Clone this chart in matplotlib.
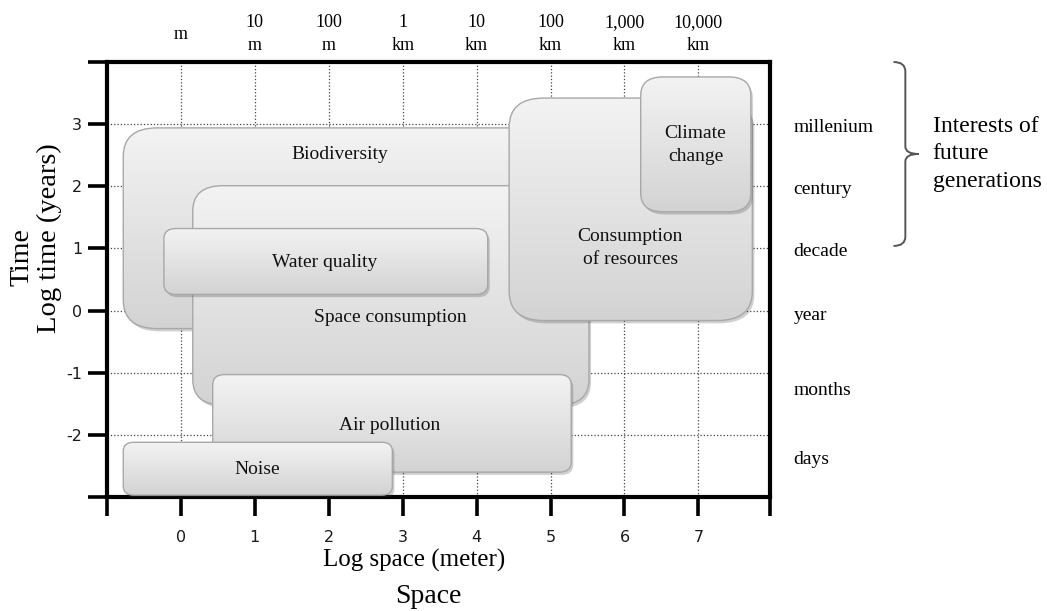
import numpy as np
import matplotlib
matplotlib.use('Agg')
from matplotlib import pyplot as plt
from matplotlib.patches import FancyBboxPatch, PathPatch
from matplotlib.path import Path
from matplotlib.colors import LinearSegmentedColormap
import matplotlib.patheffects as pe

# boxes, in drawing order (log10 meters / log10 years)
box_names = ['Biodiversity', 'Space consumption', 'Water quality', 'Air pollution',
             'Noise', 'Consumption\nof resources', 'Climate\nchange']
space_lo = [-0.78, 0.16, -0.23, 0.43, -0.78, 4.44, 6.22]
space_hi = [5.00, 5.52, 4.15, 5.28, 2.86, 7.73, 7.71]
time_lo = [-0.29, -1.52, 0.26, -2.60, -2.97, -0.16, 1.59]
time_hi = [2.94, 2.01, 1.32, -1.03, -2.12, 3.42, 3.76]
label_x = [2.15, 2.83, 1.95, 2.83, 1.03, 6.08, 6.96]
label_y = [2.51, -0.11, 0.77, -1.85, -2.56, 1.01, 2.67]
corner = [0.46, 0.41, 0.16, 0.16, 0.14, 0.47, 0.30]

space_ticks = [0, 1, 2, 3, 4, 5, 6, 7]
space_names = ['m', '10\nm', '100\nm', '1\nkm', '10\nkm', '100\nkm', '1,000\nkm', '10,000\nkm']
time_ticks = [-2, -1, 0, 1, 2, 3]
time_names = ['millenium', 'century', 'decade', 'year', 'months', 'days']
time_name_pos = [2.95, 1.95, 0.95, -0.08, -1.29, -2.40]
future_span = (1.04, 4.0)

serif = 'Liberation Serif'
xmin, xmax = -1, 7.97
ymin, ymax = -3, 4

fig = plt.figure(figsize=(10.47, 6.11), dpi=100)
ax = fig.add_axes([0.1022, 0.1866, 0.7335 - 0.1022 + 0.002, 0.8985 - 0.1866])

grad_cmap = LinearSegmentedColormap.from_list('g', ['#d3d3d3', '#f3f3f3'])
grad = np.linspace(0, 1, 256).reshape(-1, 1)

for i in range(len(box_names)):
    z = 3 + i
    w = space_hi[i] - space_lo[i]
    h = time_hi[i] - time_lo[i]
    style = 'round,pad=0,rounding_size=%.2f' % corner[i]
    base = FancyBboxPatch((space_lo[i], time_lo[i]), w, h, boxstyle=style,
                          facecolor='#dddddd', edgecolor='none', zorder=z,
                          path_effects=[pe.SimplePatchShadow(offset=(1.5, -2), alpha=0.25),
                                        pe.Normal()])
    ax.add_patch(base)
    im = ax.imshow(grad, extent=(space_lo[i], space_hi[i], time_lo[i], time_hi[i]),
                   origin='lower', cmap=grad_cmap, aspect='auto', zorder=z + 0.1,
                   interpolation='bilinear')
    im.set_clip_path(base)
    edge = FancyBboxPatch((space_lo[i], time_lo[i]), w, h, boxstyle=style,
                          facecolor='none', edgecolor='#a8a8a8', lw=1.0, zorder=z + 0.2)
    ax.add_patch(edge)
    ax.text(label_x[i], label_y[i], box_names[i], ha='center', va='center',
            fontsize=14, family=serif, color='#111111', linespacing=1.45, zorder=z + 0.5)

ax.set_xlim(xmin, xmax)
ax.set_ylim(ymin, ymax)

ax.set_xticks([xmin] + space_ticks + [xmax])
ax.set_xticklabels([''] + [str(t) for t in space_ticks] + [''])
ax.set_yticks([ymin] + time_ticks + [ymax])
ax.set_yticklabels([''] + [str(t) for t in time_ticks] + [''])
ax.tick_params(axis='both', length=14, width=2.6, color='black', labelsize=11.5,
               labelcolor='#1a1a1a')
ax.tick_params(axis='x', pad=10)
ax.tick_params(axis='y', pad=4)
for s in ax.spines.values():
    s.set_linewidth(3)
ax.grid(True, linestyle=':', color='#444444', linewidth=0.9)
ax.set_axisbelow(True)

# top scale labels
for t, name in zip(space_ticks, space_names):
    ax.annotate(name, xy=(t, 1), xycoords=('data', 'axes fraction'),
                xytext=(0, 20), textcoords='offset points', ha='center', va='center',
                fontsize=13, family=serif, linespacing=1.5, annotation_clip=False)

# right side time names
for name, y in zip(time_names, time_name_pos):
    ax.annotate(name, xy=(1, y), xycoords=('axes fraction', 'data'),
                xytext=(17, 0), textcoords='offset points', ha='left', va='center',
                fontsize=14, family=serif, annotation_clip=False)

# brace for future generations
y0, y1 = future_span
ym = (y0 + y1) / 2
xe, xv, xt = 9.64, 9.80, 9.98
verts = [(xe, y1), (xv, y1), (xv, y1 - 0.15), (xv, ym + 0.12), (xv, ym), (xt, ym),
         (xv, ym), (xv, ym - 0.12), (xv, y0 + 0.15), (xv, y0), (xe, y0)]
codes = [Path.MOVETO, Path.CURVE3, Path.CURVE3, Path.LINETO, Path.CURVE3, Path.CURVE3,
         Path.CURVE3, Path.CURVE3, Path.LINETO, Path.CURVE3, Path.CURVE3]
ax.add_patch(PathPatch(Path(verts, codes), facecolor='none', edgecolor='#555555',
                       lw=1.4, clip_on=False))
ax.text(10.17, ym, 'Interests of\nfuture\ngenerations', ha='left', va='center',
        fontsize=17, family=serif, linespacing=1.4)

# axis titles
fig.text(0.396, 0.083, 'Log space (meter)', ha='center', va='center', fontsize=18, family=serif)
fig.text(0.409, 0.023, 'Space', ha='center', va='center', fontsize=20, family=serif)
fig.text(0.047, 0.610, 'Log time (years)', ha='center', va='center', rotation=90,
         fontsize=20.5, family=serif)
fig.text(0.021, 0.579, 'Time', ha='center', va='center', rotation=90, fontsize=20, family=serif)

fig.savefig('out.png', dpi=100)
